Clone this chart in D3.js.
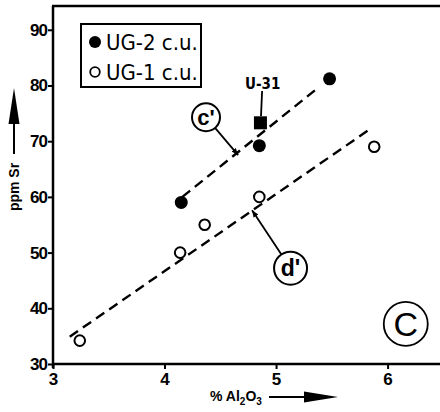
<!DOCTYPE html>
<html><head><meta charset="utf-8">
<script src="https://cdn.jsdelivr.net/npm/d3@7"></script>
<style>
html,body{margin:0;padding:0;background:#fff;}
svg{display:block;}
</style></head>
<body><svg id="c" width="440" height="412"></svg>
<script>
// ---- data ----
const ug2X = [4.15, 4.85, 5.48];
const ug2Y = [59, 69.2, 81.2];
const ug1X = [3.24, 4.14, 4.36, 4.85, 5.88];
const ug1Y = [34.2, 50, 55, 60, 69];
const u31 = [4.86, 73.3];
const lineC = [[4.16, 60.0], [5.39, 79.8]];
const lineD = [[3.15, 34.9], [5.83, 72.0]];
const xTicks = [3, 4, 5, 6];
const yTicks = [30, 40, 50, 60, 70, 80, 90];
const legendLabels = ["UG-2 c.u.", "UG-1 c.u."];
const xLabel = "% Al", yLabel = "ppm Sr";

const svg = d3.select("#c");
const x = d3.scaleLinear().domain([3, 6.47]).range([53, 440]);
const y = d3.scaleLinear().domain([30, 94.27]).range([364, 6]);
const ink = "#000";

const defs = svg.append("defs");
defs.append("marker").attr("id","ah").attr("viewBox","0 0 10 10").attr("refX",10).attr("refY",5)
  .attr("markerWidth",7).attr("markerHeight",7).attr("markerUnits","userSpaceOnUse").attr("orient","auto")
  .append("path").attr("d","M0,1 L10,5 L0,9 Z").attr("fill",ink);

// top frame
svg.append("line").attr("x1", x(3)-1).attr("x2", 440).attr("y1", y(94.27)).attr("y2", y(94.27))
  .attr("stroke", ink).attr("stroke-width", 2.5);

// axes
const xAxis = svg.append("g").attr("transform", `translate(0,${y(30)})`)
  .call(d3.axisBottom(x).tickValues(xTicks).tickFormat(d3.format("d")).tickSize(5).tickSizeOuter(0).tickPadding(4));
const yAxis = svg.append("g").attr("transform", `translate(${x(3)},0)`)
  .call(d3.axisLeft(y).tickValues(yTicks).tickFormat(d3.format("d")).tickSize(5).tickSizeOuter(0).tickPadding(1));
[xAxis, yAxis].forEach(g => {
  g.select(".domain").attr("stroke", ink).attr("stroke-width", 2.5);
  g.selectAll(".tick line").attr("stroke", ink).attr("stroke-width", 2);
  g.selectAll(".tick text").attr("fill", ink)
    .style("font-family", "'Liberation Sans', Arial, sans-serif").style("font-weight", "bold").style("font-size", "17px");
});
yAxis.selectAll(".tick text").attr("letter-spacing", "-1");
xAxis.select(".domain").attr("d", `M${x(3)-1},0H440`);
yAxis.select(".domain").attr("d", `M0,${y(94.27)}V${y(30)+4}`);

// dashed regression lines
[lineC, lineD].forEach(l => {
  svg.append("line").attr("x1", x(l[0][0])).attr("y1", y(l[0][1])).attr("x2", x(l[1][0])).attr("y2", y(l[1][1]))
    .attr("stroke", ink).attr("stroke-width", 2.4).attr("stroke-dasharray", "10,6");
});

// points
svg.selectAll(".ug2").data(ug2X.map((v,i)=>[v, ug2Y[i]])).enter().append("circle")
  .attr("cx", d=>x(d[0])).attr("cy", d=>y(d[1])).attr("r", 6.5).attr("fill", ink);
svg.selectAll(".ug1").data(ug1X.map((v,i)=>[v, ug1Y[i]])).enter().append("circle")
  .attr("cx", d=>x(d[0])).attr("cy", d=>y(d[1])).attr("r", 5.3).attr("fill", "#fff").attr("stroke", ink).attr("stroke-width", 2);
svg.append("rect").attr("x", x(u31[0])-6.5).attr("y", y(u31[1])-6.5).attr("width", 13).attr("height", 13).attr("fill", ink);

// U-31 label
const fontCond = "'DejaVu Sans Condensed', 'Liberation Sans Narrow', 'Liberation Sans', sans-serif";
svg.append("text").attr("x", x(4.88)).attr("y", y(80.4)+6).attr("text-anchor","middle")
  .style("font-family", fontCond).style("font-weight","bold").style("font-size","15px").text("U-31");
svg.append("line").attr("x1", x(4.875)).attr("x2", x(4.865)).attr("y1", y(79.0)).attr("y2", y(74.5))
  .attr("stroke", ink).attr("stroke-width", 1.8);

function circLabel(cx, cy, r, txt, fs, weight, sw){
  svg.append("circle").attr("cx", cx).attr("cy", cy).attr("r", r).attr("fill","#fff").attr("stroke", ink).attr("stroke-width", sw);
  svg.append("text").attr("x", cx).attr("y", cy).attr("dy","0.35em").attr("text-anchor","middle")
    .style("font-family","'Liberation Sans', Arial, sans-serif").style("font-weight", weight).style("font-size", fs+"px").text(txt);
}
function arrowFrom(cx, cy, r, tx, ty){
  const dx = tx-cx, dy = ty-cy, L = Math.hypot(dx,dy);
  svg.append("line").attr("x1", cx+dx/L*r).attr("y1", cy+dy/L*r).attr("x2", tx).attr("y2", ty)
    .attr("stroke", ink).attr("stroke-width", 1.8).attr("marker-end","url(#ah)");
}
arrowFrom(x(4.372), y(74.3), 14, x(4.66), y(67.5));
circLabel(x(4.372), y(74.3), 14, "c'", 22, "bold", 2);
arrowFrom(x(5.13), y(47.2), 16.5, x(4.785), y(57.6));
circLabel(x(5.13), y(47.2), 16.5, "d'", 23, "bold", 2);
circLabel(x(6.163), y(37.2), 22, "C", 34, "normal", 1.8);

// legend
const lg = svg.append("g");
lg.append("rect").attr("x", 81).attr("y", 24).attr("width", 120).attr("height", 63).attr("fill","#fff")
  .attr("stroke", ink).attr("stroke-width", 2);
lg.append("circle").attr("cx", 95).attr("cy", 42).attr("r", 6).attr("fill", ink);
lg.append("circle").attr("cx", 95).attr("cy", 72).attr("r", 4.8).attr("fill", "#fff").attr("stroke", ink).attr("stroke-width", 1.8);
legendLabels.forEach((t,i)=>{
  lg.append("text").attr("x", 106).attr("y", 42 + i*30).attr("dy","0.36em")
    .style("font-family", fontCond).style("font-size","22px").attr("fill", ink).text(t);
});

// y label with arrow
const yl = svg.append("g").attr("transform", "translate(14,187) rotate(-90)");
yl.append("text").attr("text-anchor","middle").attr("dy","0.35em")
  .style("font-family","'Liberation Sans', Arial, sans-serif").style("font-weight","bold").style("font-size","14px").text(yLabel);
svg.append("line").attr("x1", 14).attr("x2", 14).attr("y1", 154).attr("y2", 120).attr("stroke", ink).attr("stroke-width", 2);
svg.append("path").attr("d", "M14,88 L19.5,124 L8.5,124 Z").attr("fill", ink);

// x label with arrow
const xt = svg.append("text").attr("x", 210).attr("y", 401)
  .style("font-family","'Liberation Sans', Arial, sans-serif").style("font-weight","bold").style("font-size","14px");
xt.append("tspan").text(xLabel);
xt.append("tspan").attr("dy", 4).style("font-size","10px").text("2");
xt.append("tspan").attr("dy", -4).text("O");
xt.append("tspan").attr("dy", 4).style("font-size","10px").text("3");
svg.append("line").attr("x1", 269).attr("x2", 308).attr("y1", 397).attr("y2", 397).attr("stroke", ink).attr("stroke-width", 2);
svg.append("path").attr("d", "M338,397 L304,391.5 L304,402.5 Z").attr("fill", ink);
</script></body></html>
